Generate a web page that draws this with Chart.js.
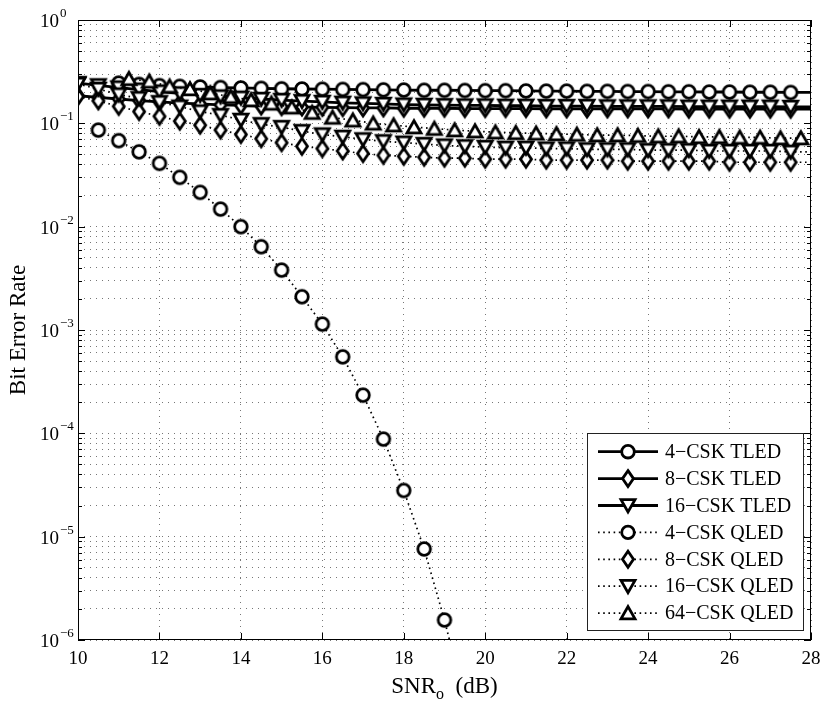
<!DOCTYPE html>
<html>
<head>
<meta charset="utf-8">
<script src="https://cdn.jsdelivr.net/npm/chart.js@4.4.1/dist/chart.umd.min.js"></script>
<style>
  html, body { margin: 0; padding: 0; background: #fff; }
  #wrap { width: 830px; height: 706px; }
</style>
</head>
<body>
<div id="wrap"><canvas id="berChart" width="830" height="706"></canvas></div>
<script>
// SNR values (dB)
const snr = [10, 10.5, 11, 11.5, 12, 12.5, 13, 13.5, 14, 14.5, 15, 15.5, 16, 16.5, 17, 17.5, 18, 18.5, 19,
  19.5, 20, 20.5, 21, 21.5, 22, 22.5, 23, 23.5, 24, 24.5, 25, 25.5, 26, 26.5, 27, 27.5, 28];
const snr64 = [11.25, 11.75, 12.25, 12.75, 13.25, 13.75, 14.25, 14.75, 15.25, 15.75, 16.25, 16.75, 17.25,
  17.75, 18.25, 18.75, 19.25, 19.75, 20.25, 20.75, 21.25, 21.75, 22.25, 22.75, 23.25, 23.75, 24.25, 24.75,
  25.25, 25.75, 26.25, 26.75, 27.25, 27.75];

// BER
const ber4TLED = [null, null, 0.245, 0.238, 0.232, 0.228, 0.225, 0.222, 0.220, 0.218, 0.216, 0.215, 0.214,
  0.213, 0.212, 0.211, 0.210, 0.209, 0.209, 0.208, 0.207, 0.207, 0.206, 0.205, 0.205, 0.204, 0.204, 0.203,
  0.203, 0.202, 0.202, 0.201, 0.201, 0.200, 0.200, 0.199, 0.199];
const ber8TLED = [0.185, 0.178, 0.172, 0.166, 0.161, 0.157, 0.154, 0.151, 0.149, 0.147, 0.145, 0.144, 0.143,
  0.142, 0.141, 0.141, 0.140, 0.140, 0.140, 0.139, 0.139, 0.139, 0.139, 0.138, 0.138, 0.138, 0.138, 0.138,
  0.138, 0.138, 0.137, 0.137, 0.137, 0.137, 0.137, 0.137, 0.137];
const ber16TLED = [0.245, 0.233, 0.222, 0.212, 0.203, 0.195, 0.188, 0.182, 0.177, 0.172, 0.168, 0.164, 0.161,
  0.158, 0.156, 0.154, 0.152, 0.151, 0.150, 0.149, 0.149, 0.148, 0.148, 0.147, 0.147, 0.147, 0.146, 0.146,
  0.146, 0.146, 0.145, 0.145, 0.145, 0.145, 0.145, 0.144, 0.144];
const ber4QLED = [null, 0.086, 0.068, 0.053, 0.041, 0.030, 0.0215, 0.0148, 0.0100, 0.0064, 0.0038, 0.0021,
  0.00114, 0.00055, 0.000234, 8.8e-5, 2.8e-5, 7.6e-6, 1.56e-6, 2.5e-7];
const ber8QLED = [0.182, 0.165, 0.146, 0.130, 0.117, 0.105, 0.096, 0.086, 0.078, 0.071, 0.065, 0.060, 0.057,
  0.054, 0.051, 0.049, 0.048, 0.047, 0.046, 0.046, 0.045, 0.045, 0.045, 0.044, 0.044, 0.044, 0.044, 0.043,
  0.043, 0.043, 0.043, 0.043, 0.042, 0.042, 0.042, 0.042, 0.042];
const ber16QLED = [0.240, 0.215, 0.190, 0.175, 0.160, 0.145, 0.130, 0.120, 0.108, 0.098, 0.092, 0.084, 0.078,
  0.074, 0.070, 0.067, 0.065, 0.063, 0.061, 0.060, 0.059, 0.058, 0.058, 0.057, 0.057, 0.056, 0.056, 0.056,
  0.055, 0.055, 0.055, 0.054, 0.054, 0.054, 0.054, 0.053, 0.053];
const ber64QLED = [0.270, 0.255, 0.228, 0.215, 0.196, 0.181, 0.168, 0.156, 0.143, 0.127, 0.114, 0.107, 0.100,
  0.096, 0.092, 0.089, 0.086, 0.084, 0.082, 0.081, 0.080, 0.079, 0.078, 0.077, 0.077, 0.076, 0.075, 0.075,
  0.074, 0.074, 0.073, 0.073, 0.072, 0.072];

const seriesLabels = ['4\u2212CSK TLED', '8\u2212CSK TLED', '16\u2212CSK TLED',
  '4\u2212CSK QLED', '8\u2212CSK QLED', '16\u2212CSK QLED', '64\u2212CSK QLED'];

// axis ticks
const xTicks = [10, 12, 14, 16, 18, 20, 22, 24, 26, 28];
const yExponents = [0, -1, -2, -3, -4, -5, -6];

const SERIF = '"Liberation Serif", "DejaVu Serif", serif';

// marker drawing (matlab-like open markers with white face)
function drawMarker(ctx, shape, x, y) {
    ctx.save();
    ctx.lineWidth = 2.8;
    ctx.strokeStyle = '#000';
    ctx.fillStyle = '#fff';
    ctx.lineJoin = 'miter';
    ctx.miterLimit = 3;
    ctx.setLineDash([]);
    ctx.beginPath();
    if (shape === 'circle') {
        ctx.arc(x, y, 6.3, 0, Math.PI * 2);
    } else if (shape === 'diamond') {
        ctx.moveTo(x, y - 8); ctx.lineTo(x + 5.5, y); ctx.lineTo(x, y + 8); ctx.lineTo(x - 5.5, y);
        ctx.closePath();
    } else if (shape === 'down') {
        ctx.moveTo(x - 7, y - 5.8); ctx.lineTo(x + 7, y - 5.8); ctx.lineTo(x, y + 6.5);
        ctx.closePath();
    } else if (shape === 'up') {
        ctx.moveTo(x - 7, y + 5.8); ctx.lineTo(x + 7, y + 5.8); ctx.lineTo(x, y - 6.5);
        ctx.closePath();
    }
    ctx.fill();
    ctx.stroke();
    ctx.restore();
}

function markerCanvas(shape) {
    const c = document.createElement('canvas');
    c.width = 26; c.height = 26;
    drawMarker(c.getContext('2d'), shape, 13, 13);
    return c;
}

function toPoints(xs, ys) {
    const pts = [];
    for (let i = 0; i < ys.length; i++) {
        if (ys[i] !== null && ys[i] !== undefined) pts.push({ x: xs[i], y: ys[i] });
    }
    return pts;
}

function makeSeries(i, xs, ys, shape, dotted) {
    return {
        label: seriesLabels[i],
        data: toPoints(xs, ys),
        markerShape: shape,
        borderColor: '#000',
        borderWidth: dotted ? 1.7 : 2.8,
        borderDash: dotted ? [1.6, 3.6] : [],
        fill: false,
        tension: 0,
        pointStyle: markerCanvas(shape),
        pointRadius: c => (c.raw && c.raw.x >= 28 ? 0 : 7),
        pointHoverRadius: c => (c.raw && c.raw.x >= 28 ? 0 : 7),
        order: 6 - i
    };
}

const datasets = [
    makeSeries(0, snr, ber4TLED, 'circle', false),
    makeSeries(1, snr, ber8TLED, 'diamond', false),
    makeSeries(2, snr, ber16TLED, 'down', false),
    makeSeries(3, snr, ber4QLED, 'circle', true),
    makeSeries(4, snr, ber8QLED, 'diamond', true),
    makeSeries(5, snr, ber16QLED, 'down', true),
    makeSeries(6, snr64, ber64QLED, 'up', true)
];

// log ticks: decades + minor 2..9
const yTickList = [];
yExponents.forEach(e => {
    yTickList.push({ value: Math.pow(10, e), major: true });
    if (e < 0) {
        for (let m = 2; m <= 9; m++) yTickList.push({ value: m * Math.pow(10, e), major: false });
    }
});

// frame, ticks, labels and legend in the matlab style
const paperPlugin = {
    id: 'paper',
    afterDraw(chart) {
        const ctx = chart.ctx;
        const a = chart.chartArea;
        const xs = chart.scales.x;
        const ys = chart.scales.y;
        ctx.save();
        ctx.strokeStyle = '#000';
        ctx.lineWidth = 1;
        ctx.setLineDash([]);

        // box
        ctx.strokeRect(a.left + 0.5, a.top + 0.5, a.right - a.left - 1, a.bottom - a.top - 1);

        // tick marks (inside)
        ctx.beginPath();
        xTicks.forEach(v => {
            const px = Math.round(xs.getPixelForValue(v)) + 0.5;
            ctx.moveTo(px, a.bottom); ctx.lineTo(px, a.bottom - 7);
            ctx.moveTo(px, a.top); ctx.lineTo(px, a.top + 7);
        });
        yTickList.forEach(t => {
            const py = Math.round(ys.getPixelForValue(t.value)) + 0.5;
            const len = t.major ? 7 : 4;
            ctx.moveTo(a.left, py); ctx.lineTo(a.left + len, py);
            ctx.moveTo(a.right, py); ctx.lineTo(a.right - len, py);
        });
        ctx.stroke();

        // tick labels
        ctx.fillStyle = '#000';
        ctx.font = '19px ' + SERIF;
        ctx.textAlign = 'center';
        ctx.textBaseline = 'alphabetic';
        xTicks.forEach(v => ctx.fillText(String(v), xs.getPixelForValue(v), a.bottom + 24));

        ctx.textAlign = 'left';
        yExponents.forEach(e => {
            const py = ys.getPixelForValue(Math.pow(10, e));
            ctx.font = '19px ' + SERIF;
            ctx.fillText('10', 40, py + 7);
            const w = ctx.measureText('10').width;
            ctx.font = '13px ' + SERIF;
            ctx.fillText(e === 0 ? '0' : '\u2212' + (-e), 40 + w + 1, py - 3);
        });

        // axis titles
        ctx.font = '23px ' + SERIF;
        const cx = (a.left + a.right) / 2;
        const wS = ctx.measureText('SNR').width;
        ctx.font = '16px ' + SERIF;
        const wO = ctx.measureText('o').width;
        ctx.font = '23px ' + SERIF;
        const wD = ctx.measureText('  (dB)').width;
        const tx = cx - (wS + wO + wD) / 2;
        ctx.fillText('SNR', tx, 693);
        ctx.font = '16px ' + SERIF;
        ctx.fillText('o', tx + wS, 699);
        ctx.font = '23px ' + SERIF;
        ctx.fillText('  (dB)', tx + wS + wO, 693);

        ctx.save();
        ctx.translate(25, (a.top + a.bottom) / 2);
        ctx.rotate(-Math.PI / 2);
        ctx.textAlign = 'center';
        ctx.fillText('Bit Error Rate', 0, 0);
        ctx.restore();

        // legend
        const lx = 587, ly = 433, lw = 216, lh = 197;
        ctx.fillStyle = '#fff';
        ctx.fillRect(lx, ly, lw, lh);
        ctx.strokeStyle = '#222';
        ctx.strokeRect(lx + 0.5, ly + 0.5, lw, lh);
        chart.data.datasets.forEach((ds, i) => {
            const ry = 451.7 + i * 26.9;
            ctx.save();
            ctx.strokeStyle = '#000';
            ctx.lineWidth = ds.borderWidth;
            ctx.setLineDash(ds.borderDash);
            ctx.beginPath();
            ctx.moveTo(598, ry); ctx.lineTo(658, ry);
            ctx.stroke();
            ctx.restore();
            drawMarker(ctx, ds.markerShape, 628, ry);
            ctx.fillStyle = '#000';
            ctx.font = '20px ' + SERIF;
            ctx.textAlign = 'left';
            ctx.textBaseline = 'middle';
            ctx.fillText(ds.label, 665, ry + 1);
        });
        ctx.restore();
    }
};

const berChart = new Chart(document.getElementById('berChart'), {
    type: 'line',
    data: { datasets: datasets },
    options: {
        responsive: false,
        animation: false,
        events: [],
        layout: { padding: { top: 20, right: 19, bottom: 0, left: 0 } },
        plugins: { legend: { display: false }, tooltip: { enabled: false } },
        scales: {
            x: {
                type: 'linear',
                min: 10,
                max: 28,
                afterBuildTicks: s => { s.ticks = xTicks.map(v => ({ value: v })); },
                afterFit: s => { s.height = 66; },
                ticks: { display: false },
                grid: { color: '#777', lineWidth: 1, drawTicks: false },
                border: { display: false, dash: [1, 5] }
            },
            y: {
                type: 'logarithmic',
                min: 1e-6,
                max: 1,
                afterBuildTicks: s => { s.ticks = yTickList.map(t => ({ value: t.value })); },
                afterFit: s => { s.width = 78; },
                ticks: { display: false },
                grid: { color: '#777', lineWidth: 1, drawTicks: false },
                border: { display: false, dash: [1, 5] }
            }
        }
    },
    plugins: [paperPlugin]
});
</script>
</body>
</html>
